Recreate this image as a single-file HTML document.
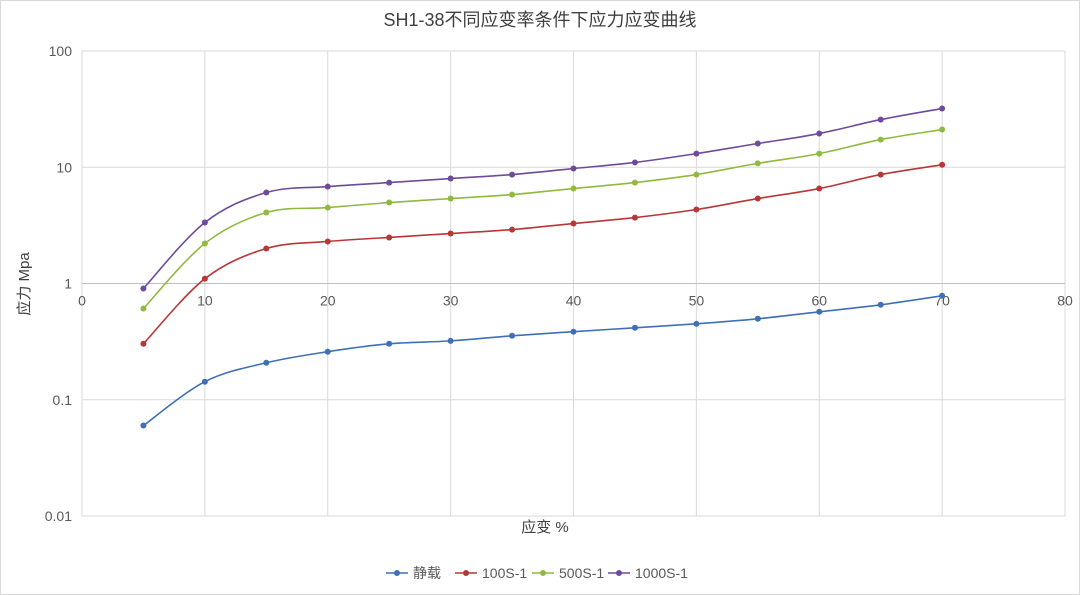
<!DOCTYPE html>
<html><head><meta charset="utf-8"><style>
html,body{margin:0;padding:0;background:#fff;}
svg{display:block;font-family:"Liberation Sans","Noto Sans CJK SC",sans-serif;}
</style></head><body>
<svg id="chart" width="1080" height="595" viewBox="0 0 1080 595">
<rect x="0.5" y="0.5" width="1079" height="594" fill="#fff" stroke="#d9d9d9"/>
<text x="540" y="26" text-anchor="middle" font-size="18" fill="#404040">SH1-38不同应变率条件下应力应变曲线</text>
<g id="grid"></g><g id="axes"></g><g id="series"></g>
<text transform="translate(29,284) rotate(-90)" text-anchor="middle" font-size="15" fill="#404040">应力 Mpa</text>
<text x="545" y="532" text-anchor="middle" font-size="15" fill="#404040">应变 %</text>
<g id="legend"></g>
</svg>
<script>
const strain = [5,10,15,20,25,30,35,40,45,50,55,60,65,70];
const staticLoad = [0.06,0.143,0.208,0.259,0.303,0.321,0.355,0.385,0.416,0.45,0.497,0.571,0.656,0.784];
const rate100 = [0.303,1.10,2.0,2.3,2.49,2.69,2.91,3.28,3.69,4.33,5.38,6.56,8.65,10.5];
const rate500 = [0.61,2.21,4.08,4.5,4.97,5.38,5.82,6.56,7.38,8.65,10.8,13.1,17.3,21.1];
const rate1000 = [0.906,3.35,6.06,6.82,7.38,8.0,8.65,9.75,11.0,13.1,16.0,19.5,25.7,32.0];
const seriesNames = ["静载","100S-1","500S-1","1000S-1"];
const xTicks = [0,10,20,30,40,50,60,70,80];
const yTicks = [0.01,0.1,1,10,100];
const yTickLabels = ["0.01","0.1","1","10","100"];

const NS="http://www.w3.org/2000/svg";
const X0=82,X1=1065,Ytop=51,Ybot=516;
function xs(v){return X0+(v-0)/(80-0)*(X1-X0);}
function ys(v){return Ybot-(Math.log10(v)+2)/4*(Ybot-Ytop);}
function mk(tag,attrs,parent){const e=document.createElementNS(NS,tag);for(const k in attrs)e.setAttribute(k,attrs[k]);parent.appendChild(e);return e;}
const grid=document.getElementById('grid'),axes=document.getElementById('axes'),ser=document.getElementById('series'),leg=document.getElementById('legend');
xTicks.forEach(t=>{
  const l=mk('line',{x1:xs(t),x2:xs(t),y1:Ytop,y2:Ybot,stroke:'#d9d9d9','stroke-width':1},grid);
  
  
  const tx=mk('text',{x:xs(t),y:ys(1)+22,'text-anchor':'middle','font-size':14,fill:'#595959'},axes);
  tx.textContent=t;
  
  
});
yTicks.forEach((t,i)=>{
  const l=mk('line',{x1:X0,x2:X1,y1:ys(t),y2:ys(t),stroke:'#d9d9d9','stroke-width':1},grid);
  
  
  const tx=mk('text',{x:X0-10,y:ys(t)+5,'text-anchor':'end','font-size':14,fill:'#595959'},axes);
  tx.textContent=yTickLabels[i];
  
  
});
const ax=mk('line',{x1:X0,x2:X1,y1:ys(1),y2:ys(1),stroke:'#bfbfbf','stroke-width':1},axes);



const colors=['#4472c4','#c0392b','#8db83e','#7346a0'];
const colorsReal=['#3f6fb5','#b83636','#8fba3f','#6e4a9c'];
const data=[staticLoad,rate100,rate500,rate1000];
function smoothPath(pts){
  let d=`M${pts[0][0]},${pts[0][1]}`;
  for(let i=0;i<pts.length-1;i++){
    const p0=pts[i-1]||pts[i],p1=pts[i],p2=pts[i+1],p3=pts[i+2]||p2;
    const t=1/6;
    const c1=[p1[0]+(p2[0]-p0[0])*t,p1[1]+(p2[1]-p0[1])*t];
    const c2=[p2[0]-(p3[0]-p1[0])*t,p2[1]-(p3[1]-p1[1])*t];
    d+=` C${c1[0]},${c1[1]} ${c2[0]},${c2[1]} ${p2[0]},${p2[1]}`;
  }
  return d;
}
data.forEach((arr,si)=>{
  const g=mk('g',{},ser);
  
  
  const pts=arr.map((v,i)=>[xs(strain[i]),ys(v)]);
  const p=mk('path',{d:smoothPath(pts),fill:'none',stroke:colorsReal[si],'stroke-width':1.6},g);
  
  
  pts.forEach(pt=>{
    const c=mk('circle',{cx:pt[0],cy:pt[1],r:3,fill:colorsReal[si]},g);
    
    
  });
});
const legX=[386,455,532,608];
seriesNames.forEach((n,i)=>{
  const g=mk('g',{},leg);
  
  
  const y=573;
  mk('line',{x1:legX[i],x2:legX[i]+22,y1:y,y2:y,stroke:colorsReal[i],'stroke-width':1.6},g);
  mk('circle',{cx:legX[i]+11,cy:y,r:3,fill:colorsReal[i]},g);
  const t=mk('text',{x:legX[i]+27,y:y+5,'font-size':14,fill:'#595959'},g);
  t.textContent=n;
});
</script>
</body></html>
